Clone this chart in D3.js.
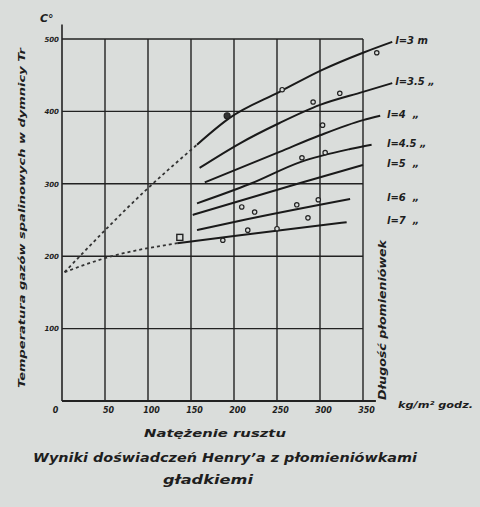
<!DOCTYPE html>
<html>
<head>
<meta charset="utf-8">
<script src="https://cdn.jsdelivr.net/npm/d3@7"></script>
<style>
  body { margin: 0; background: #dadddb; }
  svg { display: block; }
  text { font-family: "DejaVu Sans", sans-serif; font-style: oblique; font-weight: bold; fill: #1e1e1e; }
</style>
</head>
<body>
<div id="chart"></div>
<script>
// Data (x: kg/m2 godz, y: degrees C)
var xTicks = [0, 50, 100, 150, 200, 250, 300, 350];
var yTicks = [100, 200, 300, 400, 500];
var seriesNames = ["l=3 m", "l=3.5 \u201e", "l=4  \u201e", "l=4.5 \u201e", "l=5  \u201e", "l=6  \u201e", "l=7  \u201e"];

var l3 = [[157, 354], [195, 391], [253, 427], [302, 457], [350, 481], [384, 496]];
var l35 = [[160, 322], [207, 356], [253, 384], [300, 409], [350, 427], [384, 439]];
var l4 = [[166, 302], [253, 344], [300, 367], [350, 388], [370, 394]];
var l45 = [[157, 273], [219, 300], [277, 330], [335, 348], [360, 354]];
var l5 = [[152, 257], [274, 300], [350, 326]];
var l6 = [[157, 236], [207, 249], [335, 279]];
var l7 = [[134, 218], [207, 229], [331, 247]];
var seriesData = [l3, l35, l4, l45, l5, l6, l7];

// extrapolated (dashed) parts towards x = 0
var dashUpper = [[3, 178], [100, 294], [157, 354]];
var dashLower = [[3, 178], [52, 198], [134, 218]];

// measured points
var samples = [[192, 394], [256, 430], [366, 481], [292, 413], [323, 425], [303, 381],
               [279, 336], [306, 343], [224, 261], [273, 271], [298, 278],
               [187, 222], [216, 236], [250, 238], [209, 268], [286, 253]];
var squareMark = [[137, 226]];

var width = 480;
var height = 507;

var svg = d3.select('#chart')
            .append('svg')
            .attr('width', width)
            .attr('height', height);

// Create Scales
var xScale = d3.scaleLinear()
               .domain([0, 350])
               .range([62, 363]);

var yScale = d3.scaleLinear()
               .domain([0, 500])
               .range([401, 39]);

var ink = '#222';

// Grid
svg.selectAll('.hgrid')
   .data(yTicks)
   .enter()
     .append('line')
     .attr('x1', xScale(0))
     .attr('x2', xScale(350))
     .attr('y1', d => yScale(d))
     .attr('y2', d => yScale(d))
     .style('stroke', ink)
     .style('stroke-width', 1.4);

svg.selectAll('.vgrid')
   .data(xTicks.slice(1))
   .enter()
     .append('line')
     .attr('x1', d => xScale(d))
     .attr('x2', d => xScale(d))
     .attr('y1', yScale(500))
     .attr('y2', yScale(0))
     .style('stroke', ink)
     .style('stroke-width', 1.4);

// Axes
svg.append('line')
   .attr('x1', xScale(0)).attr('x2', xScale(0))
   .attr('y1', yScale(520)).attr('y2', yScale(0))
   .style('stroke', ink).style('stroke-width', 1.6);

svg.append('line')
   .attr('x1', xScale(0)).attr('x2', xScale(365))
   .attr('y1', yScale(0)).attr('y2', yScale(0))
   .style('stroke', ink).style('stroke-width', 1.8);

var xAxis = d3.axisBottom(xScale).tickValues(xTicks).tickSize(0).tickPadding(6);
svg.append('g')
   .attr('id', 'x-axis')
   .attr('transform', 'translate(3,' + yScale(0) + ')')
   .call(xAxis)
   .call(g => g.select('.domain').remove())
   .selectAll('text')
     .style('font-size', '8px')
     .style('font-family', '"DejaVu Sans", sans-serif')
     .attr('dx', d => d === 0 ? -10 : 0);

var yAxis = d3.axisLeft(yScale).tickValues(yTicks).tickSize(0).tickPadding(3);
svg.append('g')
   .attr('id', 'y-axis')
   .attr('transform', 'translate(' + xScale(0) + ',0)')
   .call(yAxis)
   .call(g => g.select('.domain').remove())
   .selectAll('text')
     .style('font-size', '7px')
     .style('font-family', '"DejaVu Sans", sans-serif');

// Lines
var line = d3.line()
             .x(d => xScale(d[0]))
             .y(d => yScale(d[1]))
             .curve(d3.curveMonotoneX);

svg.selectAll('.series')
   .data(seriesData)
   .enter()
     .append('path')
     .attr('d', line)
     .style('fill', 'none')
     .style('stroke', '#1a1a1a')
     .style('stroke-width', 2);

[dashUpper, dashLower].forEach(pts => {
    svg.append('path')
       .attr('d', line(pts))
       .style('fill', 'none')
       .style('stroke', '#333')
       .style('stroke-width', 1.8)
       .style('stroke-dasharray', '3,3');
});

svg.selectAll('.sample')
   .data(samples)
   .enter()
     .append('circle')
     .attr('cx', d => xScale(d[0]))
     .attr('cy', d => yScale(d[1]))
     .attr('r', (d, i) => i === 0 ? 3 : 2.2)
     .style('fill', (d, i) => i === 0 ? '#333' : '#dadddb')
     .style('stroke', '#222')
     .style('stroke-width', 1.2);

svg.selectAll('.square')
   .data(squareMark)
   .enter()
     .append('rect')
     .attr('x', d => xScale(d[0]) - 3)
     .attr('y', d => yScale(d[1]) - 3)
     .attr('width', 6)
     .attr('height', 6)
     .style('fill', 'none')
     .style('stroke', '#222')
     .style('stroke-width', 1.4);

// Series labels at the line ends
svg.selectAll('.label')
   .data(seriesData)
   .enter()
     .append('text')
     .attr('x', d => Math.max(xScale(d[d.length - 1][0]) + 3, 387))
     .attr('y', d => yScale(d[d.length - 1][1]) - 1)
     .attr('dominant-baseline', 'middle')
     .style('font-size', '10px')
     .style('white-space', 'pre')
     .attr('xml:space', 'preserve')
     .text((d, i) => seriesNames[i]);

// Create Text
svg.append('text')
   .attr('x', 40)
   .attr('y', 22)
   .style('font-size', '11px')
   .text('C\u00b0');

svg.append('text')
   .attr('transform', 'translate(25,' + 218 + ') rotate(-90)')
   .attr('text-anchor', 'middle')
   .attr('textLength', 340)
   .attr('lengthAdjust', 'spacingAndGlyphs')
   .style('font-size', '9px')
   .text('Temperatura gaz\u00f3w spalinowych w dymnicy Tr');

svg.append('text')
   .attr('transform', 'translate(386,' + 320 + ') rotate(-90)')
   .attr('text-anchor', 'middle')
   .attr('textLength', 160)
   .attr('lengthAdjust', 'spacingAndGlyphs')
   .style('font-size', '10px')
   .text('D\u0142ugo\u015b\u0107 p\u0142omieni\u00f3wek');

svg.append('text')
   .attr('x', 398)
   .attr('y', 408)
   .attr('textLength', 75)
   .attr('lengthAdjust', 'spacingAndGlyphs')
   .style('font-size', '9px')
   .text('kg/m\u00b2 godz.');

svg.append('text')
   .attr('x', 215)
   .attr('y', 437)
   .attr('text-anchor', 'middle')
   .attr('textLength', 142)
   .attr('lengthAdjust', 'spacingAndGlyphs')
   .style('font-size', '10px')
   .text('Nat\u0119\u017cenie rusztu');

svg.append('text')
   .attr('x', 225)
   .attr('y', 462)
   .attr('text-anchor', 'middle')
   .attr('textLength', 384)
   .attr('lengthAdjust', 'spacingAndGlyphs')
   .style('font-size', '12px')
   .text('Wyniki do\u015bwiadcze\u0144 Henry\u2019a z p\u0142omieni\u00f3wkami');

svg.append('text')
   .attr('x', 208)
   .attr('y', 484)
   .attr('text-anchor', 'middle')
   .attr('textLength', 90)
   .attr('lengthAdjust', 'spacingAndGlyphs')
   .style('font-size', '12px')
   .text('g\u0142adkiemi');
</script>
</body>
</html>
